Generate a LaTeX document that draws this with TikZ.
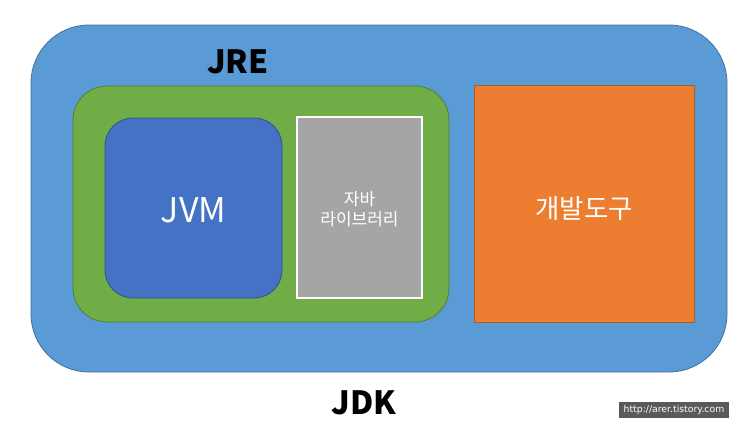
\documentclass[tikz,border=0pt]{standalone}
\usepackage{fontspec}
\setmainfont{Noto Sans CJK KR}
\newfontfamily\kr{Noto Sans CJK KR}
\newfontfamily\wm{DejaVu Sans}
\definecolor{jdkblue}{HTML}{5B9BD5}
\definecolor{jdkedge}{HTML}{41719C}
\definecolor{jregreen}{HTML}{70AD47}
\definecolor{jreedge}{HTML}{507E32}
\definecolor{jvmblue}{HTML}{4472C4}
\definecolor{jvmedge}{HTML}{2F528F}
\definecolor{libgray}{HTML}{A5A5A5}
\definecolor{toolorange}{HTML}{ED7D31}
\definecolor{tooledge}{HTML}{AE5A21}
\definecolor{wmgray}{HTML}{5A5A5A}
\tikzset{
  box/.style={line width=0.8pt},
  lbl/.style={text=white, align=center, inner sep=0pt},
  title/.style={font=\kr\bfseries\fontsize{32}{36}\selectfont, text=black, inner sep=0pt},
}
\begin{document}
\begin{tikzpicture}[x=1pt,y=-1pt]
\useasboundingbox (0,0) rectangle (750,439);
\fill[white] (0,0) rectangle (750,439);
% JDK
\draw[box, fill=jdkblue, draw=jdkedge, rounded corners=58pt] (31,25) rectangle (727,372);
% JRE
\draw[box, fill=jregreen, draw=jreedge, rounded corners=34pt] (73,86) rectangle (449,322);
% JVM
\draw[box, fill=jvmblue, draw=jvmedge, rounded corners=28pt] (105,118) rectangle (282,298);
\node[lbl, font=\kr\fontsize{34}{40}\selectfont] (jvm) at (193.5,210) {JVM};
% Library
\draw[line width=1.2pt, fill=libgray, draw=white] (297,117) rectangle (422,298);
\node[lbl, font=\kr\fontsize{17}{20}\selectfont] (lib) at (359.5,209) {자바\\라이브러리};
% Tools
\draw[box, fill=toolorange, draw=tooledge] (474,85) rectangle (694,322);
\node[lbl, font=\kr\fontsize{26.5}{30}\selectfont] (tool) at (584,209) {개발도구};
% titles
\node[title] (jre) at (238,62) {JRE};
\node[title] (jdk) at (364,403) {JDK};
% watermark
\node[fill=wmgray, text=white, font=\wm\fontsize{9.3}{11}\selectfont, minimum width=110pt, minimum height=16pt, inner sep=0pt] (wm) at (674,410) {http://arer.tistory.com};
\end{tikzpicture}
\end{document}
